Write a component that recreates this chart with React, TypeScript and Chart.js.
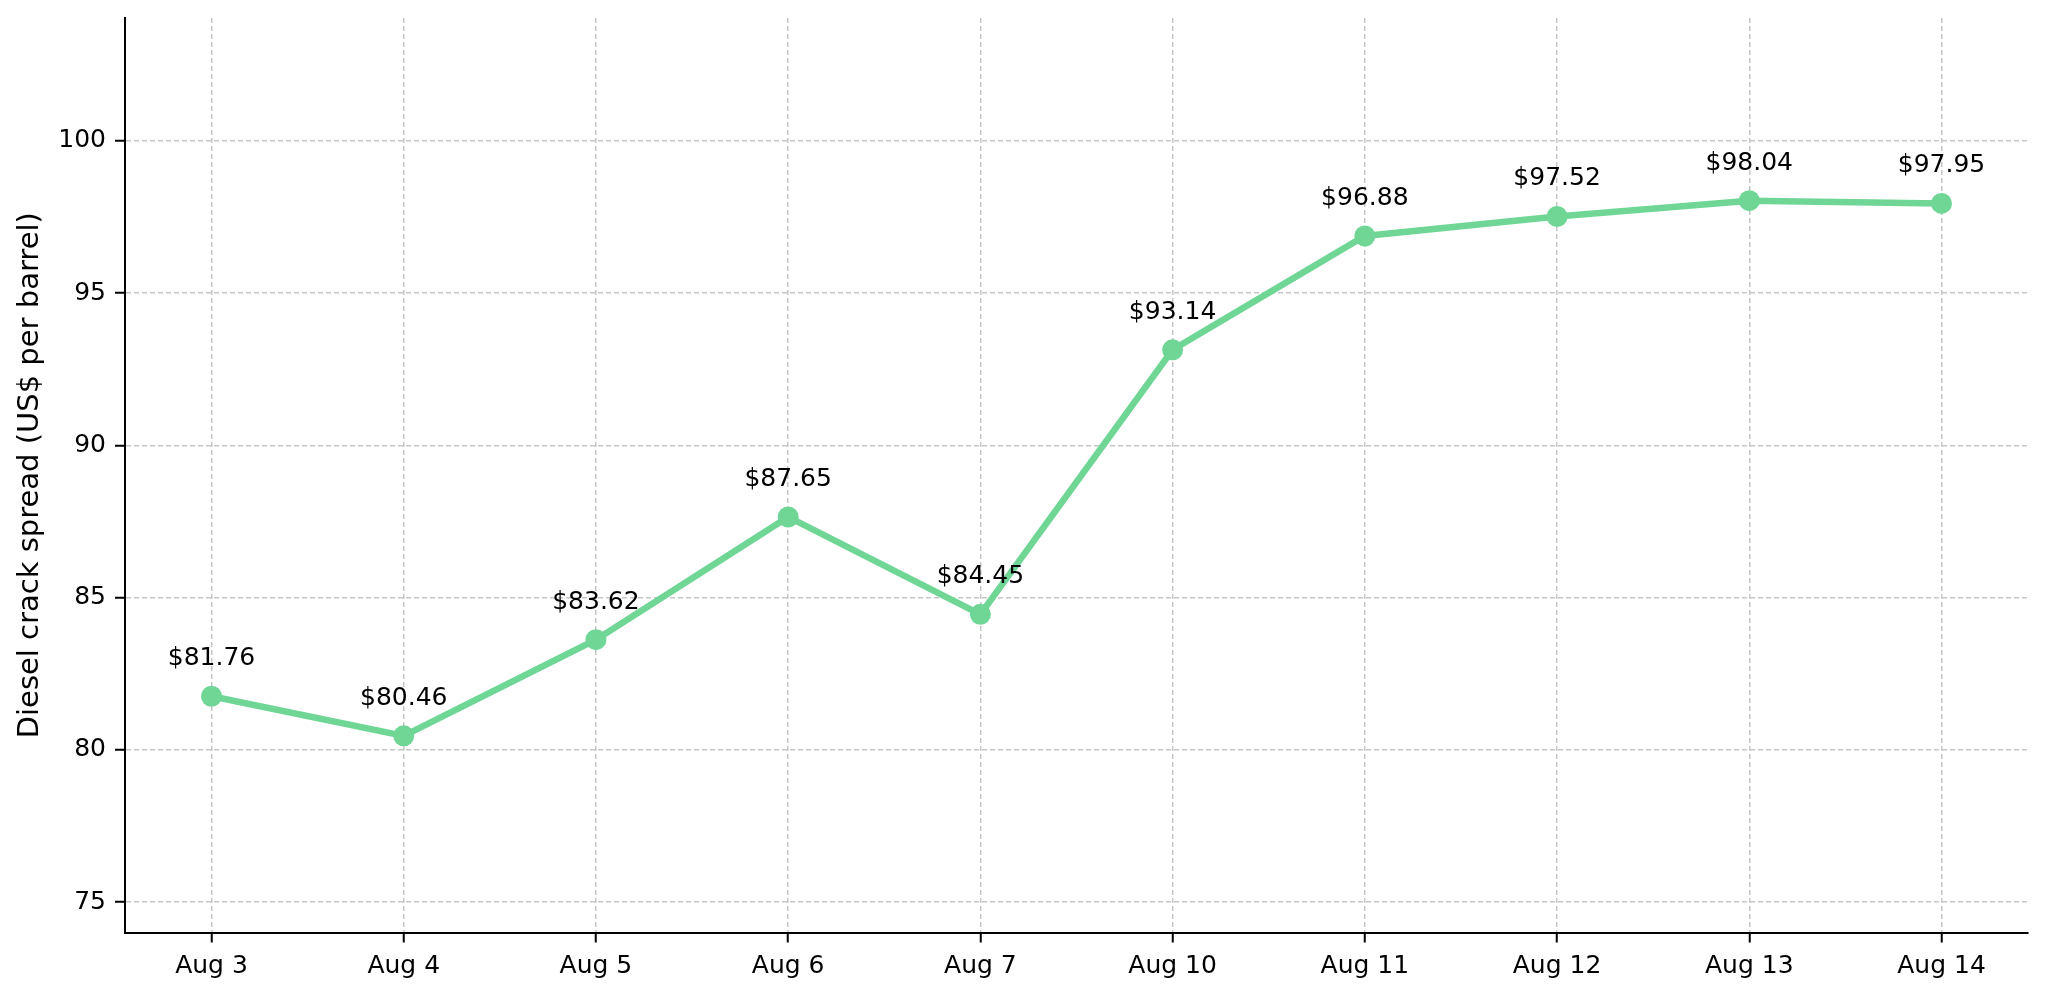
import React, { useEffect, useRef } from "react";
import { Chart, registerables } from "chart.js";

Chart.register(...registerables);

const categories = ["Aug 3", "Aug 4", "Aug 5", "Aug 6", "Aug 7", "Aug 10", "Aug 11", "Aug 12", "Aug 13", "Aug 14"];
const spreadValues = [81.76, 80.46, 83.62, 87.65, 84.45, 93.14, 96.88, 97.52, 98.04, 97.95];
const yTicks = [75, 80, 85, 90, 95, 100];
const yMin = 74.0;
const yMax = 104.04;
const yTitle = "Diesel crack spread (US$ per barrel)";

const FONT = "'DejaVu Sans', sans-serif";
const LINE_COLOR = "#6fd696";

export default function App() {
  const ref = useRef<HTMLCanvasElement>(null);

  useEffect(() => {
    const canvas = ref.current;
    if (!canvas) return;

    const labelPlugin = {
      id: "pointValueLabels",
      afterDatasetsDraw(chart: any) {
        const ctx = chart.ctx;
        const meta = chart.getDatasetMeta(0);
        ctx.save();
        ctx.font = `25px ${FONT}`;
        ctx.fillStyle = "#000";
        ctx.textAlign = "center";
        ctx.textBaseline = "alphabetic";
        meta.data.forEach((pt: any, i: number) => {
          ctx.fillText(`$${spreadValues[i].toFixed(2)}`, pt.x, pt.y - 31);
        });
        ctx.restore();
      },
    };

    const chart = new Chart(canvas, {
      type: "line",
      data: {
        datasets: [
          {
            data: spreadValues.map((v, i) => ({ x: i, y: v })),
            borderColor: LINE_COLOR,
            backgroundColor: LINE_COLOR,
            borderWidth: 6.5,
            pointRadius: 10.5,
            pointHoverRadius: 10.5,
            pointBorderWidth: 0,
            pointBackgroundColor: LINE_COLOR,
            tension: 0,
            fill: false,
          },
        ],
      },
      options: {
        responsive: false,
        animation: false,
        devicePixelRatio: 1,
        layout: { padding: { top: 18, right: 20, left: 0, bottom: 0 } },
        plugins: {
          legend: { display: false },
          tooltip: { enabled: false },
          title: { display: false },
        },
        scales: {
          x: {
            type: "linear",
            min: -0.45,
            max: 9.45,
            afterBuildTicks: (s: any) => {
              s.ticks = categories.map((_, i) => ({ value: i }));
            },
            afterFit: (s: any) => {
              s.height = 63.5;
              s.paddingLeft = 0;
              s.paddingRight = 0;
              s.paddingTop = 0;
              s.paddingBottom = 0;
            },
            ticks: {
              callback: (v: any) => categories[v as number] ?? "",
              font: { family: FONT, size: 25 },
              color: "#000",
              padding: 9,
              maxRotation: 0,
              autoSkip: false,
            },
            grid: {
              color: "#c6c6c6",
              lineWidth: 1.5,
              drawTicks: true,
              tickLength: 10,
              tickColor: "#000",
              tickWidth: 2,
            },
            border: { display: true, color: "#000", width: 2, dash: [5, 3] },
          },
          y: {
            type: "linear",
            min: yMin,
            max: yMax,
            afterBuildTicks: (s: any) => {
              s.ticks = yTicks.map((v) => ({ value: v }));
            },
            afterFit: (s: any) => {
              s.width = 125;
              s.paddingLeft = 0;
              s.paddingRight = 0;
              s.paddingTop = 0;
              s.paddingBottom = 0;
            },
            ticks: {
              callback: (v: any) => String(v),
              font: { family: FONT, size: 25 },
              color: "#000",
              padding: 9,
            },
            grid: {
              color: "#c6c6c6",
              lineWidth: 1.5,
              drawTicks: true,
              tickLength: 10,
              tickColor: "#000",
              tickWidth: 2,
            },
            border: { display: true, color: "#000", width: 2, dash: [5, 3] },
            title: {
              display: true,
              text: yTitle,
              font: { family: FONT, size: 29 },
              color: "#000",
              padding: { top: 13, bottom: 0 },
            },
          },
        },
      },
      plugins: [labelPlugin],
    } as any);

    return () => chart.destroy();
  }, []);

  return (
    <div
      style={{
        position: "fixed",
        left: 0,
        top: 0,
        width: 2048,
        height: 996,
        background: "#fff",
      }}
    >
      <canvas ref={ref} width={2048} height={996} style={{ display: "block", width: 2048, height: 996 }} />
    </div>
  );
}
